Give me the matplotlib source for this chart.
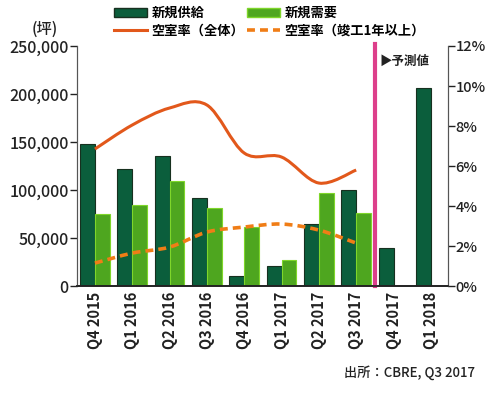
import matplotlib
matplotlib.use("Agg")
import matplotlib.pyplot as plt
import numpy as np
from matplotlib.path import Path
from matplotlib.patches import PathPatch, Patch
from matplotlib.lines import Line2D
from matplotlib.ticker import FuncFormatter

plt.rcParams['font.family'] = ['Noto Sans CJK JP', 'DejaVu Sans']

quarters = ["Q4 2015", "Q1 2016", "Q2 2016", "Q3 2016", "Q4 2016",
            "Q1 2017", "Q2 2017", "Q3 2017", "Q4 2017", "Q1 2018"]
supply = [148000, 122000, 135500, 92000, 10000, 20500, 65000, 100000, 40000, 206500]
demand = [75000, 84500, 109500, 81000, 62000, 27000, 97000, 76500, None, None]
vacancy_all = [6.85, 8.05, 8.9, 9.05, 6.65, 6.45, 5.15, 5.8]
vacancy_old = [1.15, 1.65, 1.95, 2.7, 2.95, 3.1, 2.8, 2.15]

DARK = "#0b5e3c"
LIGHT = "#4ea61f"
ORANGE = "#e2581b"
ORANGE2 = "#f07d16"
PINK = "#dd3f8b"


def smooth_patch(xs, ys, **kw):
    # Catmull-Rom style cubic bezier through the points
    n = len(xs)
    verts = [(xs[0], ys[0])]
    codes = [Path.MOVETO]
    for i in range(n - 1):
        a = max(i - 1, 0)
        b = min(i + 2, n - 1)
        c1 = (xs[i] + (xs[i + 1] - xs[a]) / 6, ys[i] + (ys[i + 1] - ys[a]) / 6)
        c2 = (xs[i + 1] - (xs[b] - xs[i]) / 6, ys[i + 1] - (ys[b] - ys[i]) / 6)
        verts += [c1, c2, (xs[i + 1], ys[i + 1])]
        codes += [Path.CURVE4] * 3
    return PathPatch(Path(verts, codes), fill=False, **kw)


fig = plt.figure(figsize=(5.0, 3.93), dpi=100)
ax = fig.add_axes([0.154, 0.272, 0.742, 0.611])
ax2 = ax.twinx()

x = np.arange(len(quarters))
w = 0.4
ax.bar(x - w / 2, supply, width=w, color=DARK, edgecolor="#17301f", linewidth=0.8, zorder=2)
dx = [i for i, v in enumerate(demand) if v is not None]
ax.bar(np.array(dx) + w / 2, [demand[i] for i in dx], width=w, color=LIGHT,
       edgecolor="#7fd62a", linewidth=0.8, zorder=2)

ax.set_xlim(-0.48, 9.46)
ax.set_ylim(0, 250000)
ax.set_yticks(range(0, 250001, 50000))
ax.yaxis.set_major_formatter(FuncFormatter(lambda v, p: f"{int(v):,}"))
ax.set_xticks(x)
ax.set_xticklabels(quarters, rotation=90, fontsize=10.5, fontweight="bold", color="#222222")
ax.tick_params(axis="x", length=0, pad=4)
ax.tick_params(axis="y", labelsize=11.5, colors="#222222", length=5, width=1, pad=1)
for lab in ax.get_yticklabels():
    lab.set_fontweight("medium")

ax2.set_ylim(0, 12)
ax2.set_yticks(range(0, 13, 2))
ax2.yaxis.set_major_formatter(FuncFormatter(lambda v, p: f"{int(v)}%"))
ax2.tick_params(axis="y", labelsize=10.5, colors="#222222", length=5, width=1, pad=0.5)
for lab in ax2.get_yticklabels():
    lab.set_fontweight("medium")

for a in (ax, ax2):
    a.spines["top"].set_visible(False)
    a.spines["left"].set_color("#555555")
    a.spines["right"].set_color("#555555")
    a.spines["bottom"].set_color("#222222")
    a.spines["bottom"].set_linewidth(1.2)

lx = x[:len(vacancy_all)].astype(float)
ax2.add_patch(smooth_patch(lx, vacancy_all, edgecolor=ORANGE, linewidth=2.2, zorder=3))
ax2.add_patch(smooth_patch(lx, vacancy_old, edgecolor=ORANGE2, linewidth=2.6,
                           linestyle=(0, (2.2, 1.4)), zorder=3))

ax.axvline(7.5, ymin=0, ymax=1.01, color=PINK, linewidth=3, clip_on=False, zorder=4)
ax.text(7.62, 234000, "▶予測値", fontsize=9, fontweight="bold", color="#222222",
        va="center", ha="left", family=["Noto Sans CJK JP", "DejaVu Sans"])

fig.text(0.064, 0.925, "(坪)", fontsize=11, fontweight="medium", color="#222222", va="center")

handles = [Patch(facecolor=DARK, edgecolor="#17301f"),
           Line2D([], [], color=ORANGE, linewidth=2.2),
           Patch(facecolor=LIGHT, edgecolor="#7fd62a"),
           Line2D([], [], color=ORANGE2, linewidth=2.6, linestyle=(0, (2.2, 1.4)))]
labels = ["新規供給", "空室率（全体）", "新規需要", "空室率（竣工1年以上）"]
fig.legend(handles, labels, ncol=2, loc="upper left", bbox_to_anchor=(0.205, 1.015),
           frameon=False, handlelength=2.5, handleheight=0.7,
           handletextpad=0.3, columnspacing=0.25, labelspacing=0.3,
           prop={"weight": "bold", "size": 9.5})

fig.text(0.95, 0.053, "出所：CBRE, Q3 2017", fontsize=9.5, ha="right", va="center",
         color="#222222", fontweight="medium")

fig.savefig("out.png", dpi=100)
